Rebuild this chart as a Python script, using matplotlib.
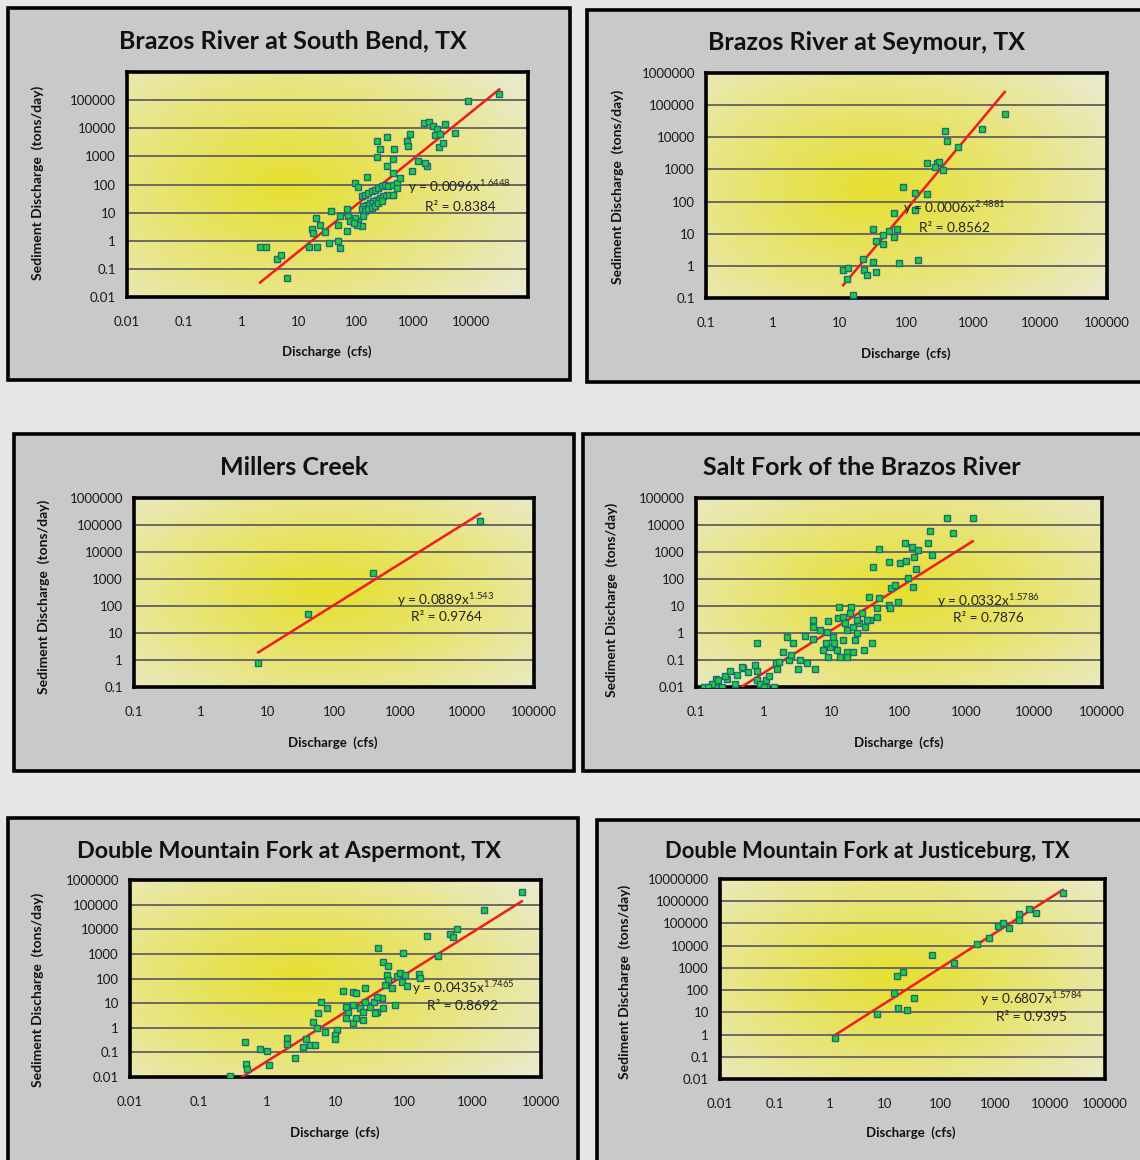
import numpy as np
import matplotlib
matplotlib.use("Agg")
import matplotlib.pyplot as plt
from matplotlib.patches import Rectangle
from matplotlib.ticker import FixedLocator, FixedFormatter, NullLocator

plt.rcParams["font.family"] = ["Lato", "DejaVu Sans"]
plt.rcParams["mathtext.fontset"] = "custom"
plt.rcParams["mathtext.rm"] = "Lato"

W, H = 1140, 1160

# ---------------- data: discharge (cfs) vs sediment discharge (tons/day) ----------------
# Brazos River at South Bend, TX
sb_q = [2.1, 2.7, 4.1, 4.8, 6.1, 15, 21, 34, 49, 52, 17, 17.4, 23, 20, 29,
        95, 106, 152, 125, 143, 163, 186, 213, 243, 278, 318, 364, 445, 508, 508,
        433, 340, 298, 260, 228, 199, 174, 152, 133, 125, 143, 163, 186, 213, 243,
        278, 133, 109, 125, 95, 68, 73, 78, 52, 37, 49, 68, 445, 581, 102, 92,
        234, 340, 260, 228, 457, 445, 340, 445,
        760, 869, 813, 1214, 929, 1698, 1588,
        1545, 1890, 2160, 2540, 2370, 2900, 3550, 5300, 2820, 3320,
        9060, 31500]
sb_qs = [0.58, 0.58, 0.22, 0.31, 0.049, 0.58, 0.61, 0.85, 0.97, 0.55, 2.6, 1.9, 3.7, 6.3, 2.0,
         115, 83, 188, 38, 44, 50, 58, 66, 76, 87, 100, 87, 100, 115, 76,
         44, 44, 38, 33, 29, 25, 22, 19, 17, 13, 11, 13, 15, 17, 22,
         25, 7.4, 4.9, 3.3, 6.5, 13, 7.4, 4.9, 7.4, 11, 3.7, 2.2, 44, 173, 3.7, 4.3,
         3530, 4900, 1780, 946, 1780, 780, 452, 261,
         3530, 6100, 2340, 681, 299, 452, 594,
         15900, 16800, 12100, 9200, 5620, 6100, 13900, 7000, 2210, 2910,
         89600, 164000]
sb_a, sb_b, sb_r2 = 0.0096, 1.6448, 0.8384

# Brazos River at Seymour, TX
sy_q = [11.3, 13.5, 13, 16, 22, 32, 23.5, 26, 35, 31, 35, 44, 54, 45, 66, 71, 66,
        78, 150, 90, 132, 200, 132, 200, 290, 310, 265, 355, 380, 400, 580, 1330, 2950]
sy_qs = [0.75, 0.87, 0.39, 0.125, 1.65, 1.33, 0.75, 0.52, 0.65, 14.3, 6.0, 9.3, 12.4, 4.9, 8.1, 14.3, 45,
         1.24, 1.55, 275, 190, 178, 56, 1550, 1550, 1660, 1150, 930, 15500, 7500, 4900, 17800, 52000]
sy_a, sy_b, sy_r2 = 0.0006, 2.4881, 0.8562

# Millers Creek
mc_q = [7.3, 41, 390, 15500]
mc_qs = [0.78, 50, 1660, 140000]
mc_a, mc_b, mc_r2 = 0.0889, 1.543, 0.9764

# Salt Fork of the Brazos River
sf_q = [510, 1230, 290, 630, 270, 122, 155, 190, 50, 310, 166, 71, 103, 126, 41, 178, 135, 162,
        76, 87, 36, 50, 71, 96, 74, 47, 47, 37, 19.5, 13, 12.6, 8.9, 5.4, 5.4, 4.1, 5.4,
        0.79, 2.2, 2.7, 1.9, 2.4, 4.4, 3.2, 5.7, 1.5, 1.6, 0.79, 0.49, 0.41, 0.29, 0.2,
        0.19, 0.24, 1.1, 1.4, 1.1, 0.79,
        8.7, 10.5, 14.8, 17, 21, 24, 26, 31, 34, 22, 9.5, 12, 17, 13.5, 17, 21, 30, 40,
        7.5, 8.2, 11, 8.9, 14.8, 18.6, 24, 6.8, 16, 28,
        0.17, 0.21, 0.27, 0.32, 0.38, 0.48, 0.59, 0.74, 0.89, 1.0, 1.2, 1.7, 2.5, 3.5, 0.13, 0.15]
sf_qs = [18000, 18000, 6000, 5000, 2150, 2150, 1540, 1180, 1300, 780, 650, 430, 390, 465, 280, 235, 110, 50,
         46, 60, 21, 20, 11, 14, 8.5, 8.5, 3.9, 3.0, 9.1, 9.1, 3.6, 2.8, 3.0, 1.7, 0.78, 0.6,
         0.43, 0.71, 0.43, 0.2, 0.1, 0.078, 0.047, 0.047, 0.078, 0.047, 0.039, 0.05, 0.028, 0.02, 0.02,
         0.01, 0.01, 0.01, 0.01, 0.018, 0.018,
         1.1, 0.71, 0.55, 1.3, 1.7, 1.0, 2.3, 1.7, 3.0, 0.55, 0.3, 0.23, 0.2, 0.13, 0.13, 0.2, 0.23, 0.43,
         0.23, 0.43, 0.43, 0.13, 3.9, 5.5, 3.0, 1.3, 2.3, 5.5,
         0.013, 0.018, 0.026, 0.039, 0.013, 0.055, 0.035, 0.065, 0.013, 0.01, 0.026, 0.085, 0.15, 0.1, 0.01, 0.01]
sf_a, sf_b, sf_r2 = 0.0332, 1.5786, 0.7876

# Double Mountain Fork at Aspermont, TX
da_q = [5250, 1480, 470, 590, 525, 218, 316, 42, 97, 49, 59, 56, 59, 79, 87, 103, 93, 110, 166, 170,
        66, 52, 13, 18, 20, 27, 18, 23, 25, 32, 40, 49, 36, 48, 40, 15, 14, 18, 20, 25, 38, 74, 27,
        14, 7.5, 6.2, 5.5, 4.7, 5.4, 7.1, 10.5, 9.8, 9.8, 3.7, 4.3, 5.0, 3.4, 1.95, 1.95, 2.6,
        0.8, 1.0, 1.07, 0.48, 0.49, 0.51, 0.29]
da_qs = [330000, 62000, 6500, 10400, 4900, 5400, 830, 1750, 1100, 470, 325, 140, 87, 128, 170, 140, 72, 50, 155, 105,
         42, 55, 32, 29, 26, 42, 8.5, 6.3, 4.4, 7.1, 4.4, 6.3, 11, 16, 18, 4.4, 2.5, 1.6, 2.5, 2.1, 4.0, 8.5, 11,
         7.1, 6.3, 11, 4.0, 1.7, 0.98, 0.68, 0.81, 0.51, 0.35, 0.35, 0.2, 0.2, 0.17, 0.39, 0.22, 0.059,
         0.14, 0.115, 0.031, 0.26, 0.034, 0.021, 0.011]
da_a, da_b, da_r2 = 0.0435, 1.7465, 0.8692

# Double Mountain Fork at Justiceburg, TX
dj_q = [1.24, 7.2, 14.8, 17.5, 25.6, 33, 16.7, 21, 73, 182, 480, 790, 1150, 1380, 1830,
        2700, 2700, 4070, 5500, 17000]
dj_qs = [0.71, 8.5, 75, 16, 13, 45, 436, 660, 3870, 1690, 12000, 22400, 78000, 107000, 63000,
         270000, 145000, 455000, 300000, 2400000]
dj_a, dj_b, dj_r2 = 0.6807, 1.5784, 0.9395

# ---------------- axis ticks ----------------
x_ticks_a = [0.01, 0.1, 1, 10, 100, 1000, 10000]
x_labels_a = ["0.01", "0.1", "1", "10", "100", "1000", "10000"]
x_ticks_b = [0.1, 1, 10, 100, 1000, 10000, 100000]
x_labels_b = ["0.1", "1", "10", "100", "1000", "10000", "100000"]
x_ticks_c = [0.01, 0.1, 1, 10, 100, 1000, 10000, 100000]
x_labels_c = ["0.01", "0.1", "1", "10", "100", "1000", "10000", "100000"]

y_ticks_sb = [0.01, 0.1, 1, 10, 100, 1000, 10000, 100000]
y_labels_sb = ["0.01", "0.1", "1", "10", "100", "1000", "10000", "100000"]
y_ticks_sy = [0.1, 1, 10, 100, 1000, 10000, 100000, 1000000]
y_labels_sy = ["0.1", "1", "10", "100", "1000", "10000", "100000", "1000000"]
y_ticks_sf = [0.01, 0.1, 1, 10, 100, 1000, 10000, 100000]
y_labels_sf = ["0.01", "0.1", "1", "10", "100", "1000", "10000", "100000"]
y_ticks_da = [0.01, 0.1, 1, 10, 100, 1000, 10000, 100000, 1000000]
y_labels_da = ["0.01", "0.1", "1", "10", "100", "1000", "10000", "100000", "1000000"]
y_ticks_dj = [0.01, 0.1, 1, 10, 100, 1000, 10000, 100000, 1000000, 10000000]
y_labels_dj = ["0.01", "0.1", "1", "10", "100", "1000", "10000", "100000", "1000000", "10000000"]

# ---------------- layout (pixel boxes: left, top, right, bottom) ----------------
panels = [
    dict(title="Brazos River at South Bend, TX", tsize=18, box=(8, 8, 570, 380), ax=(127, 72, 528, 297),
         q=sb_q, qs=sb_qs, a=sb_a, b=sb_b, r2=sb_r2, xlim=(0.01, 1e5), ylim=(0.01, 1e6),
         xt=x_ticks_a, xl=x_labels_a, yt=y_ticks_sb, yl=y_labels_sb,
         tpos=(293, 41), xlab=(327, 352), ylab=(38, 183), eq=(0.83, 0.49), gc=(0.40, 0.50)),
    dict(title="Brazos River at Seymour, TX", tsize=18, box=(587, 10, 1150, 382), ax=(706, 73, 1107, 298),
         q=sy_q, qs=sy_qs, a=sy_a, b=sy_b, r2=sy_r2, xlim=(0.1, 1e5), ylim=(0.1, 1e6),
         xt=x_ticks_b, xl=x_labels_b, yt=y_ticks_sy, yl=y_labels_sy,
         tpos=(867, 42), xlab=(906, 354), ylab=(618, 187), eq=(0.62, 0.40), gc=(0.42, 0.48)),
    dict(title="Millers Creek", tsize=18, box=(14, 434, 574, 771), ax=(134, 498, 534, 687),
         q=mc_q, qs=mc_qs, a=mc_a, b=mc_b, r2=mc_r2, xlim=(0.1, 1e5), ylim=(0.1, 1e6),
         xt=x_ticks_b, xl=x_labels_b, yt=y_ticks_sy, yl=y_labels_sy,
         tpos=(294, 467), xlab=(333, 743), ylab=(44, 597), eq=(0.78, 0.46), gc=(0.48, 0.50)),
    dict(title="Salt Fork of the Brazos River", tsize=18, box=(583, 434, 1150, 771), ax=(696, 498, 1102, 687),
         q=sf_q, qs=sf_qs, a=sf_a, b=sf_b, r2=sf_r2, xlim=(0.1, 1e5), ylim=(0.01, 1e5),
         xt=x_ticks_b, xl=x_labels_b, yt=y_ticks_sf, yl=y_labels_sf,
         tpos=(862, 467), xlab=(899, 743), ylab=(612, 600), eq=(0.72, 0.455), gc=(0.50, 0.50)),
    dict(title="Double Mountain Fork at Aspermont, TX", tsize=16.8, box=(8, 818, 578, 1175), ax=(130, 880, 541, 1077),
         q=da_q, qs=da_qs, a=da_a, b=da_b, r2=da_r2, xlim=(0.01, 1e4), ylim=(0.01, 1e6),
         xt=x_ticks_a, xl=x_labels_a, yt=y_ticks_da, yl=y_labels_da,
         tpos=(289, 851), xlab=(335, 1133), ylab=(38, 990), eq=(0.81, 0.45), gc=(0.41, 0.50)),
    dict(title="Double Mountain Fork at Justiceburg, TX", tsize=15.8, box=(597, 820, 1150, 1175), ax=(720, 879, 1105, 1079),
         q=dj_q, qs=dj_qs, a=dj_a, b=dj_b, r2=dj_r2, xlim=(0.01, 1e5), ylim=(0.01, 1e7),
         xt=x_ticks_c, xl=x_labels_c, yt=y_ticks_dj, yl=y_labels_dj,
         tpos=(867, 851), xlab=(911, 1133), ylab=(625, 982), eq=(0.81, 0.40), gc=(0.46, 0.50)),
]

fig = plt.figure(figsize=(W / 100, H / 100), dpi=100)
fig.patch.set_facecolor("#e6e6e6")


def fx(px):
    return px / W


def fy(py):
    return 1 - py / H


def yellow_glow(cx, cy, n=240):
    gx, gy = np.meshgrid(np.linspace(0, 1, n), np.linspace(0, 1, n))
    d = np.sqrt(((gx - cx) / 0.70) ** 2 + ((gy - cy) / 0.80) ** 2)
    t = np.clip(d, 0, 1) ** 1.15
    inner = np.array([230, 224, 50]) / 255
    outer = np.array([234, 234, 204]) / 255
    return inner + (outer - inner) * t[..., None]


for p in panels:
    x0, y0, x1, y1 = p["box"]
    fig.add_artist(Rectangle((fx(x0), fy(y1)), fx(x1 - x0), (y1 - y0) / H,
                             transform=fig.transFigure, facecolor="#c9c9c9",
                             edgecolor="black", linewidth=2.6, zorder=-1))

    a0, b0, a1, b1 = p["ax"]
    rect = [fx(a0), fy(b1), fx(a1 - a0), (b1 - b0) / H]

    bg = fig.add_axes(rect, zorder=1)
    bg.imshow(yellow_glow(*p["gc"]), origin="lower", aspect="auto",
              extent=[0, 1, 0, 1], interpolation="bilinear")
    bg.set_axis_off()

    ax = fig.add_axes(rect, zorder=2)
    ax.set_facecolor("none")
    ax.set_xscale("log")
    ax.set_yscale("log")
    ax.set_xlim(*p["xlim"])
    ax.set_ylim(*p["ylim"])
    ax.xaxis.set_major_locator(FixedLocator(p["xt"]))
    ax.xaxis.set_major_formatter(FixedFormatter(p["xl"]))
    ax.yaxis.set_major_locator(FixedLocator(p["yt"]))
    ax.yaxis.set_major_formatter(FixedFormatter(p["yl"]))
    ax.xaxis.set_minor_locator(NullLocator())
    ax.yaxis.set_minor_locator(NullLocator())
    ax.tick_params(axis="both", length=0, labelsize=9.5, colors="#1a1a1a")
    ax.tick_params(axis="x", pad=14)
    ax.tick_params(axis="y", pad=8)
    ax.yaxis.grid(True, color="#6a6a62", linewidth=1.4)
    ax.set_axisbelow(True)
    for s in ax.spines.values():
        s.set_linewidth(2.6)
        s.set_color("black")

    q = np.array(p["q"], dtype=float)
    qs = np.array(p["qs"], dtype=float)
    xs = np.logspace(np.log10(q.min()), np.log10(q.max()), 100)
    ax.plot(xs, p["a"] * xs ** p["b"], color="#ee1c1c", linewidth=1.8, zorder=3)
    ax.plot(q, qs, linestyle="none", marker="s", markersize=5.0,
            markerfacecolor="#1ed22e", markeredgecolor="#1f6688", markeredgewidth=1.0, zorder=4)

    ex, ey = p["eq"]
    ax.text(ex, ey, "y = %s$\\mathregular{x^{%s}}$" % (repr(p["a"]), repr(p["b"])),
            transform=ax.transAxes, ha="center", va="center", fontsize=9.8, color="#222222", zorder=5)
    ax.text(ex, ey - 0.09, "R\u00b2 = %.4f" % p["r2"],
            transform=ax.transAxes, ha="center", va="center", fontsize=9.8, color="#222222", zorder=5)

    fig.text(fx(p["tpos"][0]), fy(p["tpos"][1]), p["title"], ha="center", va="center",
             fontsize=p["tsize"], fontweight="bold", color="#111111")
    fig.text(fx(p["xlab"][0]), fy(p["xlab"][1]), "Discharge  (cfs)", ha="center", va="center",
             fontsize=9.5, fontweight="bold", color="#111111")
    fig.text(fx(p["ylab"][0]), fy(p["ylab"][1]), "Sediment Discharge  (tons/day)", ha="center",
             va="center", rotation=90, fontsize=10, fontweight="bold", color="#111111")

fig.savefig("out.png", dpi=100, facecolor=fig.get_facecolor())
